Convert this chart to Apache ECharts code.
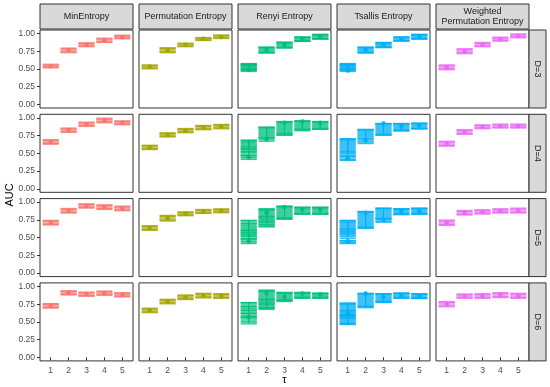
<!DOCTYPE html>
<html><head><meta charset="utf-8">
<script src="https://cdn.jsdelivr.net/npm/echarts@6/dist/echarts.min.js"></script>
<style>html,body{margin:0;padding:0;background:#fff}#c{width:550px;height:387px}</style>
</head><body><div id="c"></div>
<script>
// ---- data ----
const methods = ['MinEntropy', 'Permutation Entropy', 'Renyi Entropy', 'Tsallis Entropy', 'Weighted\nPermutation Entropy'];
const dLabels = ['D=3', 'D=4', 'D=5', 'D=6'];
const tauValues = [1, 2, 3, 4, 5];
const yTicks = [0, 0.25, 0.5, 0.75, 1];
const colors = ['#F8766D', '#A3A500', '#00BF7D', '#00B0F6', '#E76BF3'];

// each entry: [point, [[lower, upper], ...]] for tau = 1..5 ; rows D=3..6
const minEntropyAUC = [
  [[.54, [[.516,.567],[.528,.555]]], [.767, [[.73,.795],[.742,.783]]], [.842, [[.814,.87],[.826,.858]]], [.907, [[.874,.935],[.886,.923]]], [.949, [[.926,.977],[.937,.966]]]],
  [[.66, [[.628,.693],[.64,.681]]], [.828, [[.795,.856],[.807,.844]]], [.907, [[.879,.94],[.891,.928]]], [.963, [[.93,.995],[.942,.983]]], [.93, [[.902,.958],[.914,.946]]]],
  [[.71, [[.678,.743],[.69,.731]]], [.879, [[.846,.911],[.858,.899]]], [.944, [[.916,.977],[.928,.965]]], [.93, [[.897,.963],[.909,.951]]], [.911, [[.879,.944],[.891,.932]]]],
  [[.727, [[.694,.759],[.706,.747]]], [.912, [[.88,.94],[.892,.928]]], [.894, [[.861,.921],[.873,.909]]], [.907, [[.875,.935],[.887,.923]]], [.884, [[.852,.912],[.864,.9]]]]
];
const permutationAUC = [
  [[.53, [[.502,.558],[.514,.546]]], [.767, [[.73,.8],[.742,.788]]], [.842, [[.814,.865],[.826,.853]]], [.926, [[.902,.944],[.912,.934]]], [.953, [[.93,.98],[.94,.97]]]],
  [[.586, [[.553,.614],[.565,.602]]], [.758, [[.73,.79],[.742,.778]]], [.819, [[.79,.85],[.802,.838]]], [.865, [[.833,.893],[.845,.881]]], [.879, [[.846,.907],[.858,.895]]]],
  [[.636, [[.603,.668],[.615,.656]]], [.776, [[.734,.813],[.746,.801]]], [.836, [[.808,.864],[.82,.852]]], [.869, [[.841,.897],[.853,.885]]], [.879, [[.85,.906],[.862,.894]]]],
  [[.662, [[.63,.694],[.642,.682]]], [.787, [[.755,.819],[.767,.807]]], [.847, [[.815,.88],[.827,.868]]], [.87, [[.838,.903],[.85,.891]]], [.866, [[.833,.898],[.845,.886]]]]
];
const renyiAUC = [
  [[.49, [[.483,.577],[.49,.57],[.5,.565],[.465,.55]]], [.77, [[.725,.81],[.73,.805],[.735,.8]]], [.84, [[.795,.88],[.8,.875],[.805,.87]]], [.92, [[.888,.953],[.892,.948],[.9,.945]]], [.955, [[.92,.99],[.925,.985],[.93,.98]]]],
  [[.447, [[.59,.684],[.55,.684],[.52,.66],[.47,.57],[.44,.52],[.414,.47]]], [.70, [[.67,.87],[.70,.86],[.72,.865]]], [.93, [[.753,.949],[.76,.94],[.78,.945]]], [.95, [[.818,.958],[.83,.95],[.84,.955]]], [.93, [[.837,.949],[.845,.94],[.85,.945]]]],
  [[.449, [[.60,.743],[.57,.74],[.52,.70],[.48,.60],[.44,.55],[.416,.48]]], [.85, [[.65,.907],[.68,.9],[.72,.89],[.66,.80]]], [.93, [[.757,.944],[.77,.935],[.78,.94]]], [.9, [[.827,.93],[.835,.925],[.84,.92]]], [.9, [[.827,.93],[.833,.925],[.84,.92]]]],
  [[.565, [[.66,.773],[.62,.77],[.56,.72],[.50,.62],[.472,.58]]], [.9, [[.676,.95],[.70,.94],[.75,.93],[.69,.82]]], [.85, [[.787,.917],[.80,.91],[.81,.905]]], [.9, [[.833,.917],[.84,.91],[.845,.905]]], [.89, [[.833,.907],[.84,.9],[.845,.9]]]]
];
const tsallisAUC = [
  [[.48, [[.483,.577],[.49,.57],[.5,.565],[.465,.55]]], [.77, [[.725,.81],[.73,.805],[.735,.8]]], [.84, [[.8,.875],[.805,.87],[.81,.865]]], [.92, [[.893,.953],[.897,.948],[.9,.945]]], [.955, [[.92,.99],[.925,.985],[.93,.98]]]],
  [[.428, [[.474,.707],[.50,.70],[.52,.69],[.4,.465],[.41,.455]]], [.684, [[.637,.837],[.66,.83],[.70,.835]]], [.92, [[.753,.921],[.76,.915],[.77,.918]]], [.89, [[.814,.921],[.82,.915],[.83,.918]]], [.9, [[.842,.926],[.848,.92],[.85,.922]]]],
  [[.449, [[.52,.743],[.55,.74],[.58,.72],[.49,.62],[.416,.46],[.425,.455]]], [.85, [[.63,.869],[.64,.865],[.65,.86]]], [.752, [[.72,.916],[.76,.91],[.77,.912],[.72,.76]]], [.87, [[.822,.907],[.83,.9],[.835,.905]]], [.87, [[.827,.916],[.833,.91],[.84,.912]]]],
  [[.616, [[.463,.768],[.48,.76],[.55,.75],[.58,.66],[.47,.60]]], [.9, [[.70,.903],[.71,.895],[.72,.9]]], [.85, [[.773,.898],[.78,.89],[.79,.895]]], [.88, [[.833,.907],[.84,.9],[.845,.905]]], [.87, [[.829,.898],[.835,.892],[.84,.895]]]]
];
const weightedAUC = [
  [[.525, [[.49,.558],[.502,.546]]], [.75, [[.716,.786],[.728,.774]]], [.845, [[.814,.874],[.826,.862]]], [.92, [[.893,.949],[.905,.937]]], [.967, [[.94,.995],[.952,.983]]]],
  [[.633, [[.6,.67],[.612,.658]]], [.8, [[.767,.833],[.779,.821]]], [.874, [[.847,.902],[.859,.89]]], [.884, [[.856,.912],[.868,.9]]], [.884, [[.856,.912],[.868,.9]]]],
  [[.71, [[.673,.748],[.685,.736]]], [.85, [[.818,.883],[.83,.871]]], [.86, [[.832,.893],[.844,.881]]], [.874, [[.846,.907],[.858,.895]]], [.883, [[.846,.916],[.858,.904]]]],
  [[.75, [[.713,.787],[.725,.775]]], [.866, [[.833,.894],[.845,.882]]], [.866, [[.833,.898],[.845,.886]]], [.88, [[.843,.912],[.855,.9]]], [.866, [[.833,.903],[.845,.891]]]]
];
const allAUC = [minEntropyAUC, permutationAUC, renyiAUC, tsallisAUC, weightedAUC];

// ---- layout ----
const colLeft = [40, 139, 238, 337, 436];
const panelW = 93;
const rowTop = [30, 114.3, 198.6, 282.9];
const panelH = 78;

function rgba(hex, a) {
  const n = parseInt(hex.slice(1), 16);
  return 'rgba(' + ((n >> 16) & 255) + ',' + ((n >> 8) & 255) + ',' + (n & 255) + ',' + a + ')';
}

const grids = [], xAxes = [], yAxes = [], series = [], graphics = [];
let gi = 0;
for (let r = 0; r < 4; r++) {
  for (let c = 0; c < 5; c++) {
    grids.push({left: colLeft[c], top: rowTop[r], width: panelW, height: panelH, show: true,
      borderColor: '#333333', borderWidth: 1, backgroundColor: '#ffffff', containLabel: false});
    const bottom = r === 3, first = c === 0;
    xAxes.push({type: 'value', gridIndex: gi, min: 0.4, max: 5.6,
      axisLine: {show: false}, splitLine: {show: false},
      axisTick: {show: bottom, length: 3, lineStyle: {color: '#333333'}, customValues: tauValues},
      axisLabel: {show: bottom, customValues: tauValues, fontSize: 8.5, color: '#4D4D4D', margin: 5, fontFamily: 'Liberation Sans, Arial'}});
    yAxes.push({type: 'value', gridIndex: gi, min: -0.05, max: 1.05,
      axisLine: {show: false}, splitLine: {show: false},
      axisTick: {show: first, length: 3, lineStyle: {color: '#333333'}, customValues: yTicks},
      axisLabel: {show: first, customValues: yTicks, fontSize: 8.5, color: '#4D4D4D', margin: 5,
        fontFamily: 'Liberation Sans, Arial', formatter: v => Number(v).toFixed(2)}});
    const color = colors[c];
    const bars = [], pts = [];
    allAUC[c][r].forEach((entry, t) => {
      pts.push([tauValues[t], entry[0]]);
      entry[1].forEach(iv => bars.push([tauValues[t], iv[0], iv[1]]));
    });
    series.push({type: 'custom', xAxisIndex: gi, yAxisIndex: gi, data: bars, silent: true,
      renderItem: function (params, api) {
        const x = api.value(0), lo = api.value(1), hi = api.value(2);
        const pLo = api.coord([x, lo]), pHi = api.coord([x, hi]);
        const w = api.size([0.9, 0])[0];
        const xl = pLo[0] - w / 2;
        const line = rgba(color, 0.8);
        return {type: 'group', children: [
          {type: 'rect', shape: {x: xl, y: pHi[1], width: w, height: pLo[1] - pHi[1]}, style: {fill: rgba(color, 0.38)}},
          {type: 'line', shape: {x1: xl, y1: pHi[1], x2: xl + w, y2: pHi[1]}, style: {stroke: line, lineWidth: 1.3}},
          {type: 'line', shape: {x1: xl, y1: pLo[1], x2: xl + w, y2: pLo[1]}, style: {stroke: line, lineWidth: 1.3}},
          {type: 'line', shape: {x1: pLo[0], y1: pHi[1], x2: pLo[0], y2: pLo[1]}, style: {stroke: line, lineWidth: 1}}
        ]};
      }});
    series.push({type: 'scatter', xAxisIndex: gi, yAxisIndex: gi, data: pts, symbolSize: 4.5, silent: true,
      itemStyle: {color: color, opacity: 1}});
    gi++;
  }
}

// strips
for (let c = 0; c < 5; c++) {
  graphics.push({type: 'rect', shape: {x: colLeft[c], y: 4, width: panelW, height: 25},
    style: {fill: '#D9D9D9', stroke: '#333333', lineWidth: 1}});
  graphics.push({type: 'text', x: colLeft[c] + panelW / 2, y: 16.5,
    style: {text: methods[c], fill: '#1A1A1A', fontSize: 9, lineHeight: 10, align: 'center', verticalAlign: 'middle', fontFamily: 'Liberation Sans, Arial'}});
}
for (let r = 0; r < 4; r++) {
  graphics.push({type: 'rect', shape: {x: 529, y: rowTop[r], width: 17, height: panelH},
    style: {fill: '#D9D9D9', stroke: '#333333', lineWidth: 1}});
  graphics.push({type: 'text', x: 537.5, y: rowTop[r] + panelH / 2, rotation: -Math.PI / 2,
    style: {text: dLabels[r], fill: '#1A1A1A', fontSize: 9, align: 'center', verticalAlign: 'middle', fontFamily: 'Liberation Sans, Arial'}});
}
graphics.push({type: 'text', x: 10, y: 195, rotation: Math.PI / 2,
  style: {text: 'AUC', fill: '#000000', fontSize: 11, align: 'center', verticalAlign: 'middle', fontFamily: 'Liberation Sans, Arial'}});
graphics.push({type: 'text', x: 284.5, y: 380, 
  style: {text: 'τ', fill: '#000000', fontSize: 11, align: 'center', verticalAlign: 'middle', fontFamily: 'Liberation Sans, Arial'}});

const chart = echarts.init(document.getElementById('c'), null, {renderer: 'canvas'});
chart.setOption({animation: false, grid: grids, xAxis: xAxes, yAxis: yAxes, series: series, graphic: graphics});
</script></body></html>
